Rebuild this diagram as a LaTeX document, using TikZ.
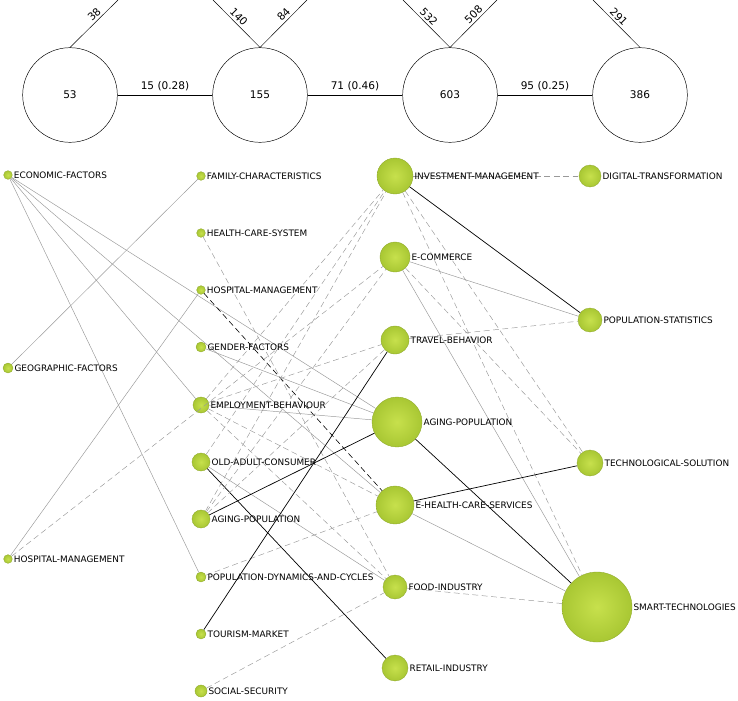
\documentclass[tikz,border=0pt]{standalone}
\usepackage{fontspec}
\setmainfont{DejaVu Sans}
\usetikzlibrary{positioning}
\definecolor{kwgreen}{rgb}{0.66,0.78,0.20}
\definecolor{kwlight}{rgb}{0.78,0.88,0.30}
\tikzset{
  kw/.style={circle, inner color=kwlight, outer color=kwgreen, draw=kwgreen!85!black, line width=0.3pt, inner sep=0pt},
  lab/.style={right, inner sep=1pt, font=\fontsize{7.6}{9}\selectfont},
  per/.style={circle, draw, minimum size=2.84cm, font=\fontsize{9}{10}\selectfont},
  ls/.style={gray!80, line width=0.4pt},
  lb/.style={black, line width=0.6pt},
  ld/.style={gray!80, dashed, dash pattern=on 5pt off 3pt, line width=0.4pt},
  ldb/.style={black, dashed, dash pattern=on 5pt off 3pt, line width=0.5pt},
  num/.style={font=\fontsize{9}{10}\selectfont, inner sep=2pt}
}
\begin{document}
\begin{tikzpicture}[x=0.03cm, y=-0.03cm]
  \useasboundingbox (0,0) rectangle (738,700);
  % periods
  \node[per] (p1) at (70,95) {53};
  \node[per] (p2) at (260,95) {155};
  \node[per] (p3) at (450,95) {603};
  \node[per] (p4) at (640,95) {386};
  \draw (p1) -- node[num, above=1pt] {15 (0.28)} (p2);
  \draw (p2) -- node[num, above=1pt] {71 (0.46)} (p3);
  \draw (p3) -- node[num, above=1pt] {95 (0.25)} (p4);
  \coordinate (t1) at (118,0);
  \coordinate (t2a) at (213,0);
  \coordinate (t2b) at (307,0);
  \coordinate (t3a) at (403,0);
  \coordinate (t3b) at (497,0);
  \coordinate (t4) at (593,0);
  \draw (p1.north) -- node[num, sloped, above, pos=0.6] {38} (t1);
  \draw (t2a) -- node[num, sloped, above, pos=0.45] {140} (p2.north);
  \draw (p2.north) -- node[num, sloped, above, pos=0.6] {84} (t2b);
  \draw (t3a) -- node[num, sloped, above, pos=0.45] {532} (p3.north);
  \draw (p3.north) -- node[num, sloped, above, pos=0.6] {508} (t3b);
  \draw (t4) -- node[num, sloped, above, pos=0.45] {291} (p4.north);

  % keywords, first period
  \node[kw, minimum size=0.26cm] (ecf) at (8,175) {};
  \node[kw, minimum size=0.3cm] (geo) at (8,368) {};
  \node[kw, minimum size=0.26cm] (hma) at (8,559) {};
  % second period
  \node[kw, minimum size=0.26cm] (fam) at (201,176) {};
  \node[kw, minimum size=0.26cm] (hcs) at (201,233) {};
  \node[kw, minimum size=0.26cm] (hmb) at (201,290) {};
  \node[kw, minimum size=0.3cm] (gen) at (201,347) {};
  \node[kw, minimum size=0.48cm] (emp) at (201,405) {};
  \node[kw, minimum size=0.54cm] (old) at (201,462) {};
  \node[kw, minimum size=0.54cm] (agb) at (201,519) {};
  \node[kw, minimum size=0.3cm] (pdc) at (201,577) {};
  \node[kw, minimum size=0.3cm] (tou) at (201,634) {};
  \node[kw, minimum size=0.36cm] (soc) at (201,691) {};
  % third period
  \node[kw, minimum size=1.08cm] (inv) at (395,176) {};
  \node[kw, minimum size=0.9cm] (eco) at (395,257) {};
  \node[kw, minimum size=0.84cm] (tra) at (395,340) {};
  \node[kw, minimum size=1.5cm] (agc) at (397,422) {};
  \node[kw, minimum size=1.14cm] (ehc) at (395,505) {};
  \node[kw, minimum size=0.72cm] (foo) at (395,587) {};
  \node[kw, minimum size=0.78cm] (ret) at (395,668) {};
  % fourth period
  \node[kw, minimum size=0.66cm] (dig) at (590,176) {};
  \node[kw, minimum size=0.72cm] (pst) at (590,320) {};
  \node[kw, minimum size=0.78cm] (tec) at (590,463) {};
  \node[kw, minimum size=2.1cm] (sma) at (597,607) {};

  % links
  \draw[ls] (ecf) -- (emp);
  \draw[ls] (ecf) -- (agc);
  \draw[ls] (ecf) -- (pdc);
  \draw[ls] (ecf) -- (ehc);
  \draw[ls] (geo) -- (fam);
  \draw[ls] (hma) -- (hmb);
  \draw[ld] (hma) -- (eco);
  \draw[ld] (hcs) -- (foo);
  \draw[ldb] (hmb) -- (ehc);
  \draw[ls] (gen) -- (agc);
  \draw[ls] (emp) -- (agc);
  \draw[ld] (emp) -- (inv);
  \draw[ld] (emp) -- (tra);
  \draw[ld] (emp) -- (ehc);
  \draw[ld] (emp) -- (foo);
  \draw[lb] (old) -- (ret);
  \draw[ld] (old) -- (inv);
  \draw[ls] (old) -- (foo);
  \draw[lb] (agb) -- (agc);
  \draw[ld] (agb) -- (inv);
  \draw[ld] (agb) -- (eco);
  \draw[ld] (agb) -- (tra);
  \draw[ld] (pdc) -- (ehc);
  \draw[lb] (tou) -- (tra);
  \draw[ld] (soc) -- (foo);
  \draw[ld] (inv) -- (dig);
  \draw[lb] (inv) -- (pst);
  \draw[ld] (inv) -- (sma);
  \draw[ld] (inv) -- (tec);
  \draw[ls] (eco) -- (pst);
  \draw[ls] (eco) -- (sma);
  \draw[ld] (eco) -- (tec);
  \draw[ld] (tra) -- (pst);
  \draw[lb] (agc) -- (sma);
  \draw[lb] (ehc) -- (tec);
  \draw[ls] (ehc) -- (sma);
  \draw[ld] (foo) -- (sma);

  % labels
  \node[lab] at (ecf.east) {ECONOMIC-FACTORS};
  \node[lab] at (geo.east) {GEOGRAPHIC-FACTORS};
  \node[lab] at (hma.east) {HOSPITAL-MANAGEMENT};
  \node[lab] at (fam.east) {FAMILY-CHARACTERISTICS};
  \node[lab] at (hcs.east) {HEALTH-CARE-SYSTEM};
  \node[lab] at (hmb.east) {HOSPITAL-MANAGEMENT};
  \node[lab] at (gen.east) {GENDER-FACTORS};
  \node[lab] at (emp.east) {EMPLOYMENT-BEHAVIOUR};
  \node[lab] at (old.east) {OLD-ADULT-CONSUMER};
  \node[lab] at (agb.east) {AGING-POPULATION};
  \node[lab] at (pdc.east) {POPULATION-DYNAMICS-AND-CYCLES};
  \node[lab] at (tou.east) {TOURISM-MARKET};
  \node[lab] at (soc.east) {SOCIAL-SECURITY};
  \node[lab] at (inv.east) {INVESTMENT-MANAGEMENT};
  \node[lab] at (eco.east) {E-COMMERCE};
  \node[lab] at (tra.east) {TRAVEL-BEHAVIOR};
  \node[lab] at (agc.east) {AGING-POPULATION};
  \node[lab] at (ehc.east) {E-HEALTH-CARE-SERVICES};
  \node[lab] at (foo.east) {FOOD-INDUSTRY};
  \node[lab] at (ret.east) {RETAIL-INDUSTRY};
  \node[lab] at (dig.east) {DIGITAL-TRANSFORMATION};
  \node[lab] at (pst.east) {POPULATION-STATISTICS};
  \node[lab] at (tec.east) {TECHNOLOGICAL-SOLUTION};
  \node[lab] at (sma.east) {SMART-TECHNOLOGIES};
\end{tikzpicture}
\end{document}
